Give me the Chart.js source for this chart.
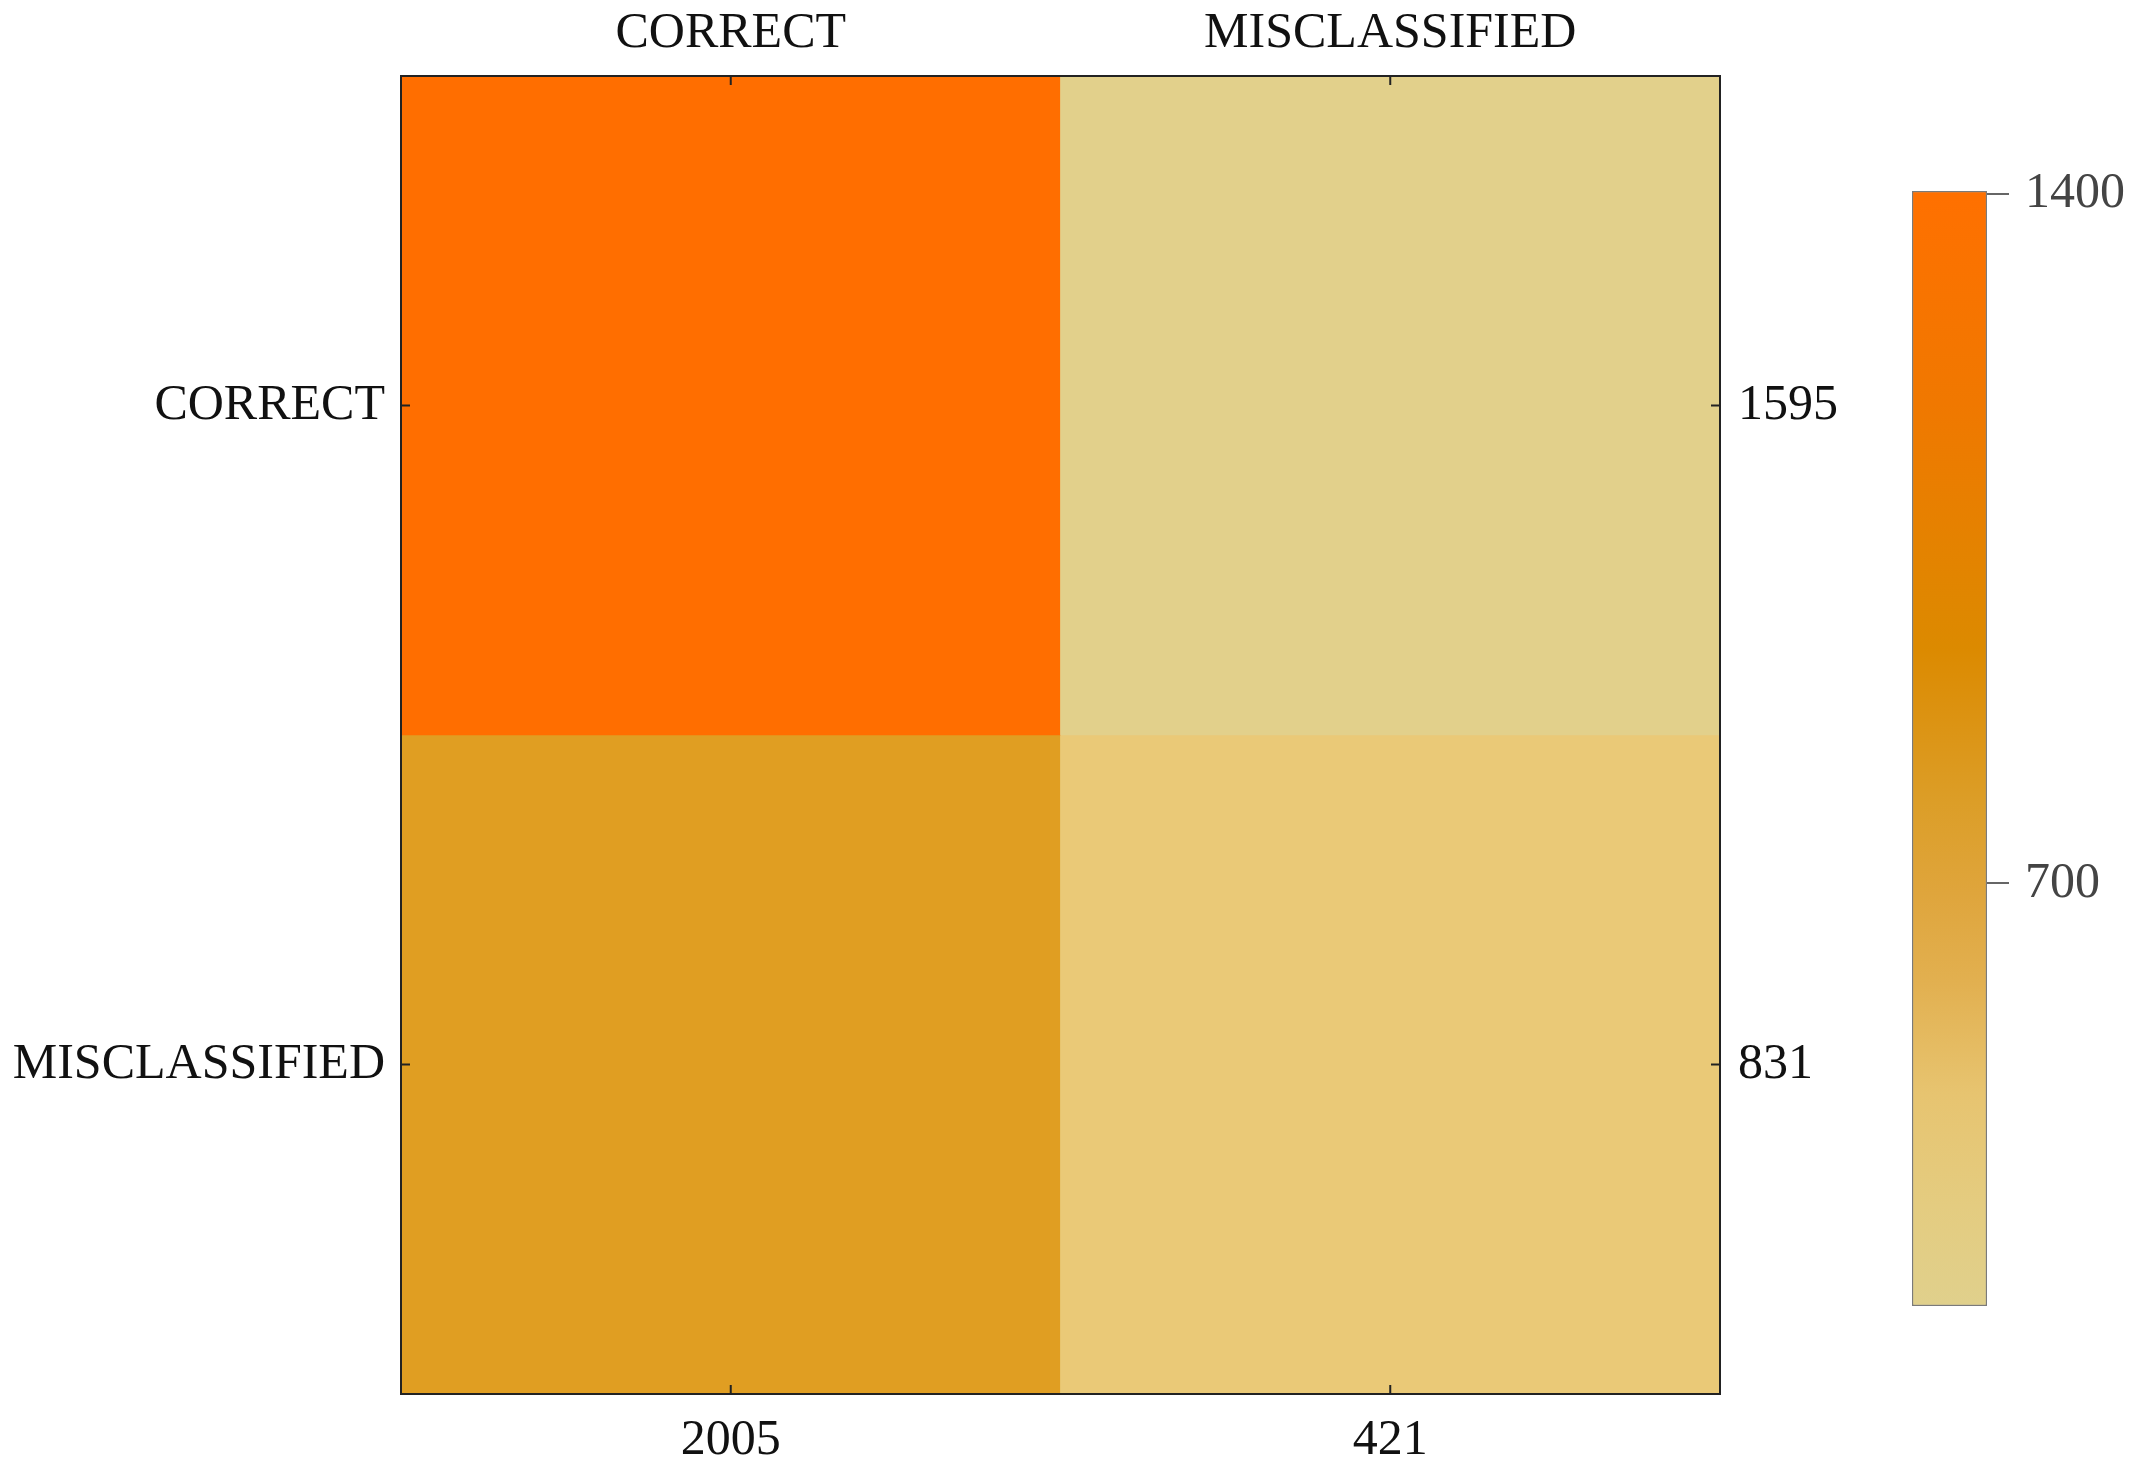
<!DOCTYPE html>
<html>
<head>
<meta charset="utf-8">
<script src="https://cdn.jsdelivr.net/npm/chart.js@4.4.1/dist/chart.umd.min.js"></script>
<style>
body { margin: 0; background: #fff; overflow: hidden; }
#wrap { position: relative; width: 2133px; height: 1471px; }
#matrix { position: absolute; left: 0; top: 0; }
#legend { position: absolute; left: 1880px; top: 145px; }
</style>
</head>
<body>
<div id="wrap">
    <canvas id="matrix" width="2133" height="1471"></canvas>
    <canvas id="legend" width="253" height="1207"></canvas>
</div>
<script>
// Datos de la matriz de confusión
const rowNames = ['CORRECT', 'MISCLASSIFIED'];
const colNames = ['CORRECT', 'MISCLASSIFIED'];
const rowTotals = [1595, 831];
const colTotals = [2005, 421];
const rowCorrect = [1400, 195];
const rowMisclassified = [605, 226];

// Escala de la barra de color
const legendTicks = [700, 1400];
const legendMin = 271;
const legendMax = 1403;

// Colores de las celdas según su valor
const cellStops = [[195, '#e2d08b'], [226, '#eac977'], [605, '#e09e22'], [960, '#dc8a00'], [1400, '#ff6e00']];
// Degradado de la barra (fracción desde abajo)
const legendStops = [[0, '#e0d08c'], [0.09, '#e4cc80'], [0.19, '#e7c470'], [0.29, '#e2b050'],
    [0.37, '#dfa53c'], [0.45, '#dc9e28'], [0.59, '#dc8a00'], [0.81, '#f07800'], [1, '#ff7000']];

const font = { family: '"Liberation Serif", "DejaVu Serif", serif', size: 50 };

function hexToRgb(h) {
    const n = parseInt(h.slice(1), 16);
    return [(n >> 16) & 255, (n >> 8) & 255, n & 255];
}

function colorFor(v) {
    if (v <= cellStops[0][0]) return cellStops[0][1];
    for (let i = 1; i < cellStops.length; i++) {
        const [v1, c1] = cellStops[i];
        const [v0, c0] = cellStops[i - 1];
        if (v <= v1) {
            const t = (v - v0) / (v1 - v0);
            const a = hexToRgb(c0), b = hexToRgb(c1);
            const m = a.map((x, k) => Math.round(x + (b[k] - x) * t));
            return `rgb(${m[0]}, ${m[1]}, ${m[2]})`;
        }
    }
    return cellStops[cellStops.length - 1][1];
}

// Marcas cortas hacia dentro en el centro de cada celda
const innerTicks = {
    id: 'innerTicks',
    afterDraw(chart) {
        const { ctx, chartArea: a, scales } = chart;
        ctx.save();
        ctx.strokeStyle = '#222';
        ctx.lineWidth = 2;
        const line = (x1, y1, x2, y2) => { ctx.beginPath(); ctx.moveTo(x1, y1); ctx.lineTo(x2, y2); ctx.stroke(); };
        colNames.forEach((n, i) => {
            const x = scales.x.getPixelForValue(i);
            line(x, a.top, x, a.top + 9);
            line(x, a.bottom, x, a.bottom - 9);
        });
        scales.y.ticks.forEach(t => {
            const y = scales.y.getPixelForValue(t.value);
            line(a.left, y, a.left + 9, y);
            line(a.right, y, a.right - 9, y);
        });
        ctx.restore();
    }
};

const frame = { display: true, color: '#222', width: 2, z: 1 };

function cellDataset(name, values, rowIndex) {
    const lo = rowNames.length - 1 - rowIndex;
    return {
        label: name,
        data: values.map(() => [lo, lo + 1]),
        backgroundColor: values.map(colorFor),
        borderWidth: 0,
        grouped: false,
        barPercentage: 1,
        categoryPercentage: 1
    };
}

new Chart(document.getElementById('matrix').getContext('2d'), {
    type: 'bar',
    data: {
        labels: colTotals.map(String),
        datasets: [
            cellDataset(rowNames[0], rowCorrect, 0),
            cellDataset(rowNames[1], rowMisclassified, 1)
        ]
    },
    options: {
        responsive: false,
        animation: false,
        layout: { padding: 0 },
        plugins: { legend: { display: false }, tooltip: { enabled: false } },
        scales: {
            x: {
                type: 'category', position: 'bottom', offset: true,
                labels: colTotals.map(String),
                grid: { display: false }, border: frame,
                ticks: { font: font, color: '#111', padding: 9, maxRotation: 0 },
                afterFit: s => { s.height = 77; }
            },
            x2: {
                type: 'category', position: 'top', offset: true,
                labels: colNames,
                grid: { display: false }, border: frame,
                ticks: { font: font, color: '#111', padding: 4, maxRotation: 0 },
                afterFit: s => { s.height = 76; }
            },
            y: {
                type: 'linear', position: 'left', min: 0, max: 2,
                afterBuildTicks: s => { s.ticks = [{ value: 1.5 }, { value: 0.5 }]; },
                grid: { display: false }, border: frame,
                ticks: { font: font, color: '#111', padding: 8, callback: v => rowNames[v > 1 ? 0 : 1] },
                afterFit: s => { s.width = 401; }
            },
            y2: {
                type: 'linear', position: 'right', min: 0, max: 2,
                afterBuildTicks: s => { s.ticks = [{ value: 1.5 }, { value: 0.5 }]; },
                grid: { display: false }, border: frame,
                ticks: { font: font, color: '#111', padding: 10, callback: v => String(rowTotals[v > 1 ? 0 : 1]) },
                afterFit: s => { s.width = 413; }
            }
        }
    },
    plugins: [innerTicks]
});

// Barra de color
new Chart(document.getElementById('legend').getContext('2d'), {
    type: 'bar',
    data: {
        labels: [''],
        datasets: [{
            data: [[legendMin, legendMax]],
            backgroundColor: function(c) {
                const a = c.chart.chartArea;
                if (!a) return '#e0d08c';
                const g = c.chart.ctx.createLinearGradient(0, a.bottom, 0, a.top);
                legendStops.forEach(([f, col]) => g.addColorStop(f, col));
                return g;
            },
            borderColor: '#7a7a7a',
            borderWidth: 1.5,
            borderSkipped: false,
            barPercentage: 1,
            categoryPercentage: 1
        }]
    },
    options: {
        responsive: false,
        animation: false,
        layout: { padding: { left: 32, top: 37, bottom: 42, right: 0 } },
        plugins: { legend: { display: false }, tooltip: { enabled: false } },
        scales: {
            x: { display: false },
            y: {
                position: 'right', min: legendMin, max: legendMax,
                afterBuildTicks: s => { s.ticks = legendTicks.map(v => ({ value: v })); },
                grid: { drawOnChartArea: false, tickLength: 22, color: '#666', lineWidth: 2 },
                border: { display: false },
                ticks: { font: font, color: '#444', padding: 16, callback: v => String(v) },
                afterFit: s => { s.width = 146; }
            }
        }
    }
});
</script>
</body>
</html>
